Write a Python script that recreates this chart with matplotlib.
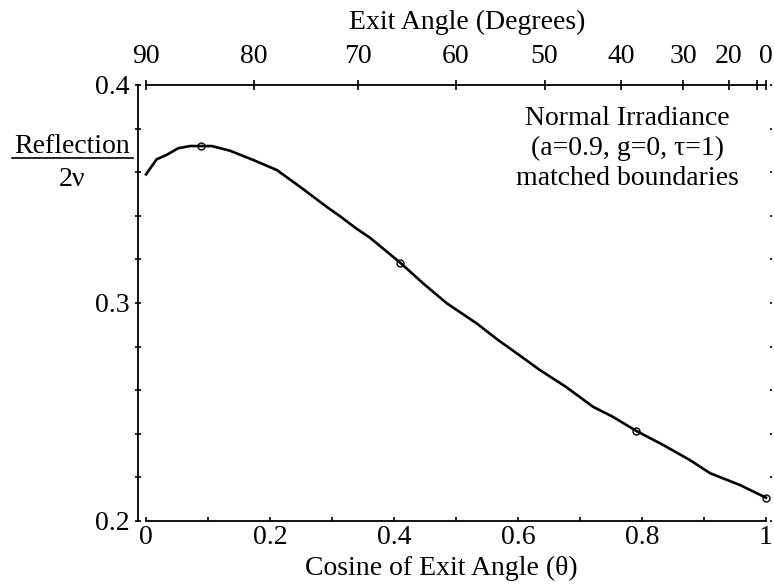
import numpy as np
import matplotlib.pyplot as plt
from matplotlib.lines import Line2D

plt.rcParams['font.family'] = ['Liberation Serif', 'DejaVu Serif']

# curve
mu = [0, 0.017, 0.033, 0.052, 0.071, 0.088, 0.106, 0.135, 0.173, 0.211,
      0.248, 0.291, 0.313, 0.340, 0.361, 0.410, 0.447, 0.485, 0.533, 0.568,
      0.600, 0.635, 0.677, 0.721, 0.753, 0.791, 0.834, 0.877, 0.910, 0.958, 1.0]
refl = [0.359, 0.3659, 0.3679, 0.3710, 0.3720, 0.3720, 0.3720, 0.3699, 0.3656, 0.3610,
        0.3534, 0.3442, 0.3398, 0.3340, 0.3300, 0.3185, 0.3090, 0.2999, 0.2907, 0.2830,
        0.2765, 0.2693, 0.2616, 0.2524, 0.2478, 0.2413, 0.2349, 0.2280, 0.2219, 0.2165, 0.2107]

# open circles
mu_pts = [0.088, 0.410, 0.791, 1.0]
refl_pts = [0.3720, 0.3185, 0.2413, 0.2107]

# top axis
degs = [90, 80, 70, 60, 50, 40, 30, 20, 10, 0]
deg_labels = ['90', '80', '70', '60', '50', '40', '30', '20', '', '0']

fs = 20

fig = plt.figure(figsize=(7.74, 5.84), dpi=100)
ax = fig.add_axes([146/774, 63/584, 620/774, 436/584])

ax.plot(mu, refl, color='black', lw=1.9, clip_on=False)
ax.plot(mu_pts, refl_pts, 'o', ms=5, mfc='none', mec='black', mew=1.0, clip_on=False)

ax.set_xlim(0, 1)
ax.set_ylim(0.2, 0.4)

ax.spines['left'].set_position(('outward', 5.8))
ax.spines['right'].set_visible(False)
ax.spines['top'].set_visible(False)
for s in ['left', 'bottom']:
    ax.spines[s].set_linewidth(1.3)

ax.set_xticks(np.arange(0, 1.01, 0.2))
ax.set_xticklabels(['0', '0.2', '0.4', '0.6', '0.8', '1'])
ax.set_xticks(np.arange(0.1, 1.0, 0.2), minor=True)
ax.tick_params(axis='x', which='both', direction='in', length=3, width=1.2,
               pad=3, labelsize=fs)

ax.set_yticks([0.2, 0.3, 0.4])
ax.set_yticklabels(['0.2', '0.3', '0.4'])
ax.set_yticks(np.arange(0.2, 0.401, 0.02), minor=True)
ax.tick_params(axis='y', which='both', direction='inout', length=4.3, width=1.2,
               pad=4, labelsize=fs)

# small dots on the right
right = ax.secondary_yaxis(1.0 + 5/620)
right.spines['right'].set_visible(False)
right.set_yticks(np.arange(0.2, 0.401, 0.02))
right.tick_params(direction='inout', length=1.5, width=1.2, labelright=False)

ax.set_xlabel('Cosine of Exit Angle (\u03b8)', fontsize=fs)
ax.xaxis.set_label_coords(0.477, -0.080)

top = ax.secondary_xaxis('top', functions=(lambda x: x, lambda x: x))
top.set_xticks(np.cos(np.radians(degs)))
top.set_xticklabels(deg_labels)
top.tick_params(direction='inout', length=7, width=1.2, pad=8, labelsize=fs)
top.spines['top'].set_linewidth(1.3)

fig.text(467/774, 1 - 22/584, 'Exit Angle (Degrees)', ha='center', va='center', fontsize=fs)

ax.text(0.776, 0.371, 'Normal Irradiance\n(a=0.9, g=0, \u03c4=1)\nmatched boundaries',
        ha='center', va='center', fontsize=fs, linespacing=1.25)

# y label as a fraction
fig.text(72/774, 1 - 153/584, 'Reflection', ha='center', va='baseline', fontsize=fs)
fig.add_artist(Line2D([12/774, 133/774], [1 - 158/584, 1 - 158/584],
                      transform=fig.transFigure, color='black', lw=1.2))
fig.text(72/774, 1 - 180/584, '2\u03bd', ha='center', va='center', fontsize=fs)

plt.savefig('out.png', dpi=100)
